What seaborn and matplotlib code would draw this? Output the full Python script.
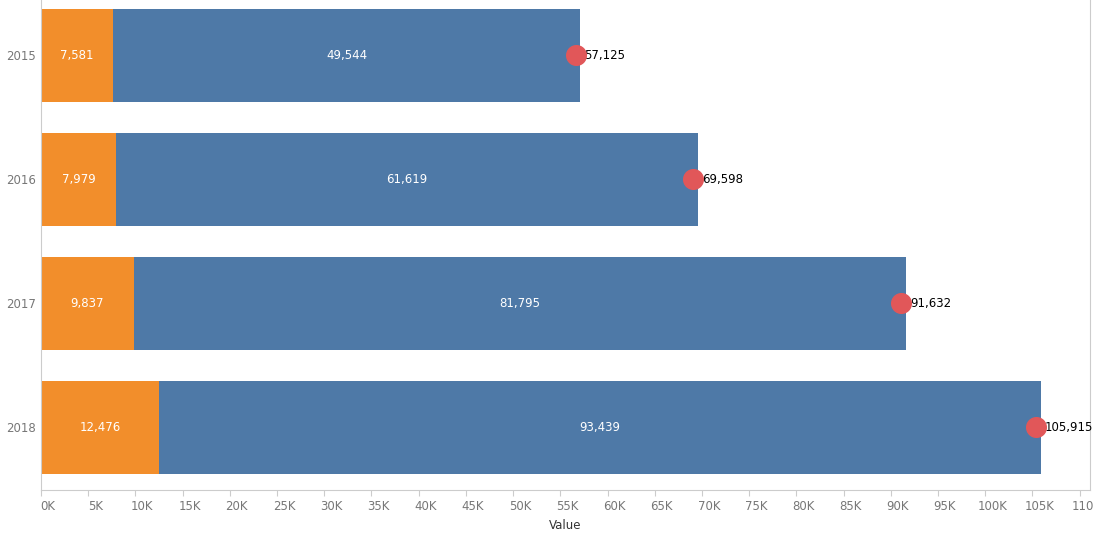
import matplotlib
matplotlib.use("Agg")
import matplotlib.pyplot as plt
import matplotlib.transforms as mtransforms
import seaborn as sns
import pandas as pd
from matplotlib.ticker import FuncFormatter, MultipleLocator

years = ["2015", "2016", "2017", "2018"]
orange_vals = [7581, 7979, 9837, 12476]
blue_vals = [49544, 61619, 81795, 93439]
totals = [57125, 69598, 91632, 105915]

df = pd.DataFrame({"year": years, "orange": orange_vals, "blue": blue_vals, "total": totals})

fig = plt.figure(figsize=(10.93, 5.43), dpi=100)
ax = fig.add_axes([41 / 1093, 53 / 543, 1049 / 1093, 490 / 543])

sns.barplot(data=df, y="year", x="total", orient="h", color="#4e79a7", width=0.75,
            saturation=1, ax=ax)
sns.barplot(data=df, y="year", x="orange", orient="h", color="#f28e2b", width=0.75,
            saturation=1, ax=ax)
ax.scatter(df["total"] - 500, range(len(years)), s=200, color="#e15759", zorder=5)

for i, row in df.iterrows():
    ax.text(row["orange"] / 2, i, f"{row['orange']:,}", color="white", ha="center", va="center", fontsize=8.5)
    ax.text(row["orange"] + row["blue"] / 2, i, f"{row['blue']:,}", color="white", ha="center", va="center", fontsize=8.5)
    ax.text(row["total"] + 400, i, f"{row['total']:,}", color="black", ha="left", va="center", fontsize=8.5)

ax.set_xlim(0, 111100)
ax.set_ylim(3.508, -0.4476)
ax.xaxis.set_major_locator(MultipleLocator(5000))
ax.xaxis.set_major_formatter(FuncFormatter(lambda v, p: f"{int(v / 1000)}K"))
ax.tick_params(axis="x", colors="#cccccc", labelsize=8.5, length=4)
ax.tick_params(axis="y", colors="#cccccc", labelsize=8.5, length=0)
offset = mtransforms.ScaledTranslation(7 / 100, 0, fig.dpi_scale_trans)
for lab in ax.get_xticklabels():
    lab.set_color("#777777")
    lab.set_transform(lab.get_transform() + offset)
for lab in ax.get_yticklabels():
    lab.set_color("#777777")
ax.set_xlabel("Value", fontsize=8.5, color="#333333")
ax.set_ylabel("")
ax.spines["top"].set_visible(False)
for side in ["left", "right", "bottom"]:
    ax.spines[side].set_color("#cccccc")

fig.savefig("out.png", dpi=100)
